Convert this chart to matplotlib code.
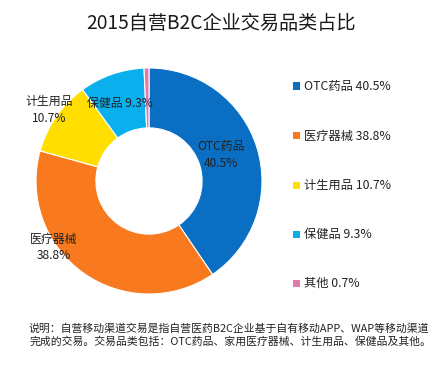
import matplotlib
matplotlib.use("Agg")
import matplotlib.pyplot as plt
from matplotlib.patches import Rectangle

plt.rcParams['font.family'] = ['Noto Sans CJK SC', 'DejaVu Sans']

# data
categories = ['OTC药品', '医疗器械', '计生用品', '保健品', '其他']
shares = [40.5, 38.8, 10.7, 9.3, 0.7]
colors = ['#0A6FC2', '#F8791E', '#FFDE00', '#0AB0EE', '#E478AE']

W, H = 444, 366
fig = plt.figure(figsize=(W / 100, H / 100), dpi=100)
fig.patch.set_facecolor('white')

# donut axes: centre (149, 181) px, radius 113 px
cx, cy, r = 149, 181, 113
ax = fig.add_axes([(cx - r) / W, (H - cy - r) / H, 2 * r / W, 2 * r / H])
wedges, _ = ax.pie(shares, colors=colors, startangle=90, counterclock=False,
                   radius=1.0, wedgeprops=dict(width=0.53, edgecolor='white', linewidth=0.8))
ax.set_xlim(-1, 1)
ax.set_ylim(-1, 1)
ax.set_aspect('equal')
ax.axis('off')

# labels on the ring
label_pos = [(0.64, 0.23), (-0.84, -0.59), (-0.88, 0.63), (-0.26, 0.69)]
for i, (x, y) in enumerate(label_pos):
    if categories[i] == '保健品':
        txt = f'{categories[i]} {shares[i]}%'
    else:
        txt = f'{categories[i]}\n{shares[i]}%'
    ax.text(x, y, txt, ha='center', va='center', fontsize=8.6, color='#222222',
            linespacing=1.35)

# title
fig.text(221 / W, 1 - 23 / H, '2015自营B2C企业交易品类占比', ha='center', va='center',
         fontsize=13.8, color='#1a1a1a')

# legend
rows_y = [86, 136, 185, 234, 283]
for name, v, c, y in zip(categories, shares, colors, rows_y):
    fig.patches.append(Rectangle((293 / W, 1 - (y + 3.5) / H), 7 / W, 7 / H,
                                 transform=fig.transFigure, facecolor=c, edgecolor='none'))
    fig.text(304 / W, 1 - y / H, f'{name} {v}%', ha='left', va='center',
             fontsize=8.8, color='#222222')

# footnote
fig.text(29 / W, 1 - 328 / H, '说明：自营移动渠道交易是指自营医药B2C企业基于自有移动APP、WAP等移动渠道',
         ha='left', va='center', fontsize=7.8, color='#222222')
fig.text(29 / W, 1 - 341 / H, '完成的交易。交易品类包括：OTC药品、家用医疗器械、计生用品、保健品及其他。',
         ha='left', va='center', fontsize=7.8, color='#222222')

fig.savefig('out.png', dpi=100)
